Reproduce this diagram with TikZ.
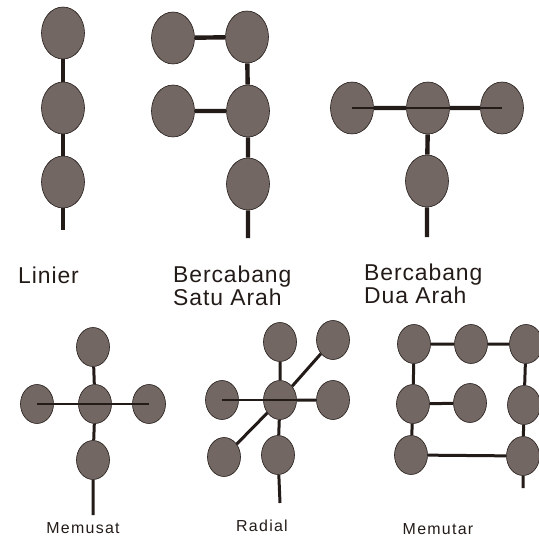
\documentclass[tikz,border=0pt]{standalone}
\usepackage{fontspec}
\setmainfont{Liberation Sans}
\usetikzlibrary{shapes.geometric}
\definecolor{selx}{RGB}{115,103,99}
\definecolor{garx}{RGB}{35,27,24}
\tikzset{
    sel/.style={ellipse,draw=garx,line width=0.6bp,fill=selx,inner sep=0pt,minimum width=43bp,minimum height=52bp},
    selk/.style={sel,minimum width=33bp,minimum height=39bp},
    tebal/.style={garx,line width=4.4bp},
    sedang/.style={garx,line width=3bp},
    tipis/.style={garx,line width=1.6bp},
    judul/.style={inner sep=0pt,anchor=north west,align=left,text=garx,
        font=\fontsize{23}{20}\selectfont\addfontfeatures{LetterSpace=4}},
    ket/.style={inner sep=0pt,anchor=base,text=garx,
        font=\fontsize{16}{18}\selectfont\addfontfeatures{LetterSpace=8}}
}

\begin{document}
\begin{tikzpicture}[x=1bp,y=-1bp]
    \useasboundingbox (0,0) rectangle (539,540);
    % baris atas
    % linier
    \node [sel] (l1) at (63,33) {};
    \node [sel] (l2) at (63,108) {};
    \node [sel] (l3) at (63,182) {};
    \coordinate (l4) at (63,230);
    % bercabang satu arah
    \node [sel] (s1) at (173,38) {};
    \node [sel] (s2) at (247,37) {};
    \node [sel] (s3) at (173,111) {};
    \node [sel] (s4) at (248,111) {};
    \node [sel] (s5) at (248,184) {};
    \coordinate (s6) at (248,238);
    % bercabang dua arah
    \node [sel] (d1) at (352,108) {};
    \node [sel] (d2) at (428,108) {};
    \node [sel] (d3) at (502,108) {};
    \node [sel] (d4) at (427,181) {};
    \coordinate (d5) at (427,237);
    \draw [tebal] (l1) -- (l2) (l2) -- (l3) (l3) -- (l4);
    \draw [tebal] (s1) -- (s2) (s3) -- (s4) (s2) -- (s4) (s4) -- (s5) (s5) -- (s6);
    \draw [tebal] (d1) -- (d2) (d2) -- (d3) (d2) -- (d4) (d4) -- (d5);
    \draw [tipis] (d1.center) -- (d3.center);
    \node [judul] (tl) at (18,267) {Linier};
    \node [judul] (ts) at (173,266) {Bercabang\\Satu Arah};
    \node [judul] (td) at (364,264) {Bercabang\\Dua Arah};
    % baris bawah
    % memusat
    \node [selk] (m1) at (93,347) {};
    \node [selk] (m2) at (95,404) {};
    \node [selk] (m3) at (37,404) {};
    \node [selk] (m4) at (149,404) {};
    \node [selk] (m5) at (93,460) {};
    \coordinate (m6) at (93,515);
    \draw [sedang] (m1) -- (m2) (m2) -- (m5) (m5) -- (m6);
    \draw [tipis] (m3.center) -- (m4.center);
    % radial
    \node [selk] (r1) at (280,342) {};
    \node [selk] (r2) at (333,340) {};
    \node [selk] (r3) at (222,400) {};
    \node [selk] (r4) at (280,400) {};
    \node [selk] (r5) at (333,400) {};
    \node [selk] (r6) at (224,457) {};
    \node [selk] (r7) at (278,455) {};
    \coordinate (r8) at (280,503);
    \draw [sedang] (r1) -- (r4) (r4) -- (r7) (r7) -- (r8) (r4) -- (r2) (r4) -- (r6) (r4) -- (r5);
    \draw [tipis] (r3.center) -- (r4.east);
    % memutar
    \node [selk] (t1) at (414,344) {};
    \node [selk] (t2) at (471,344) {};
    \node [selk] (t3) at (526,344) {};
    \node [selk] (t4) at (413,404) {};
    \node [selk] (t5) at (470,403) {};
    \node [selk] (t6) at (524,405) {};
    \node [selk] (t7) at (411,455) {};
    \node [selk] (t8) at (523,456) {};
    \coordinate (t9) at (523,488);
    \draw [sedang] (t1) -- (t2) (t2) -- (t3) (t1) -- (t4) (t4) -- (t5) (t4) -- (t7)
        (t7) -- (t8) (t3) -- (t6) (t6) -- (t8) (t8) -- (t9);
    \node [ket] (km) at (83,533) {Memusat};
    \node [ket] (kr) at (262,531) {Radial};
    \node [ket] (kt) at (438,534) {Memutar};
\end{tikzpicture}
\end{document}
